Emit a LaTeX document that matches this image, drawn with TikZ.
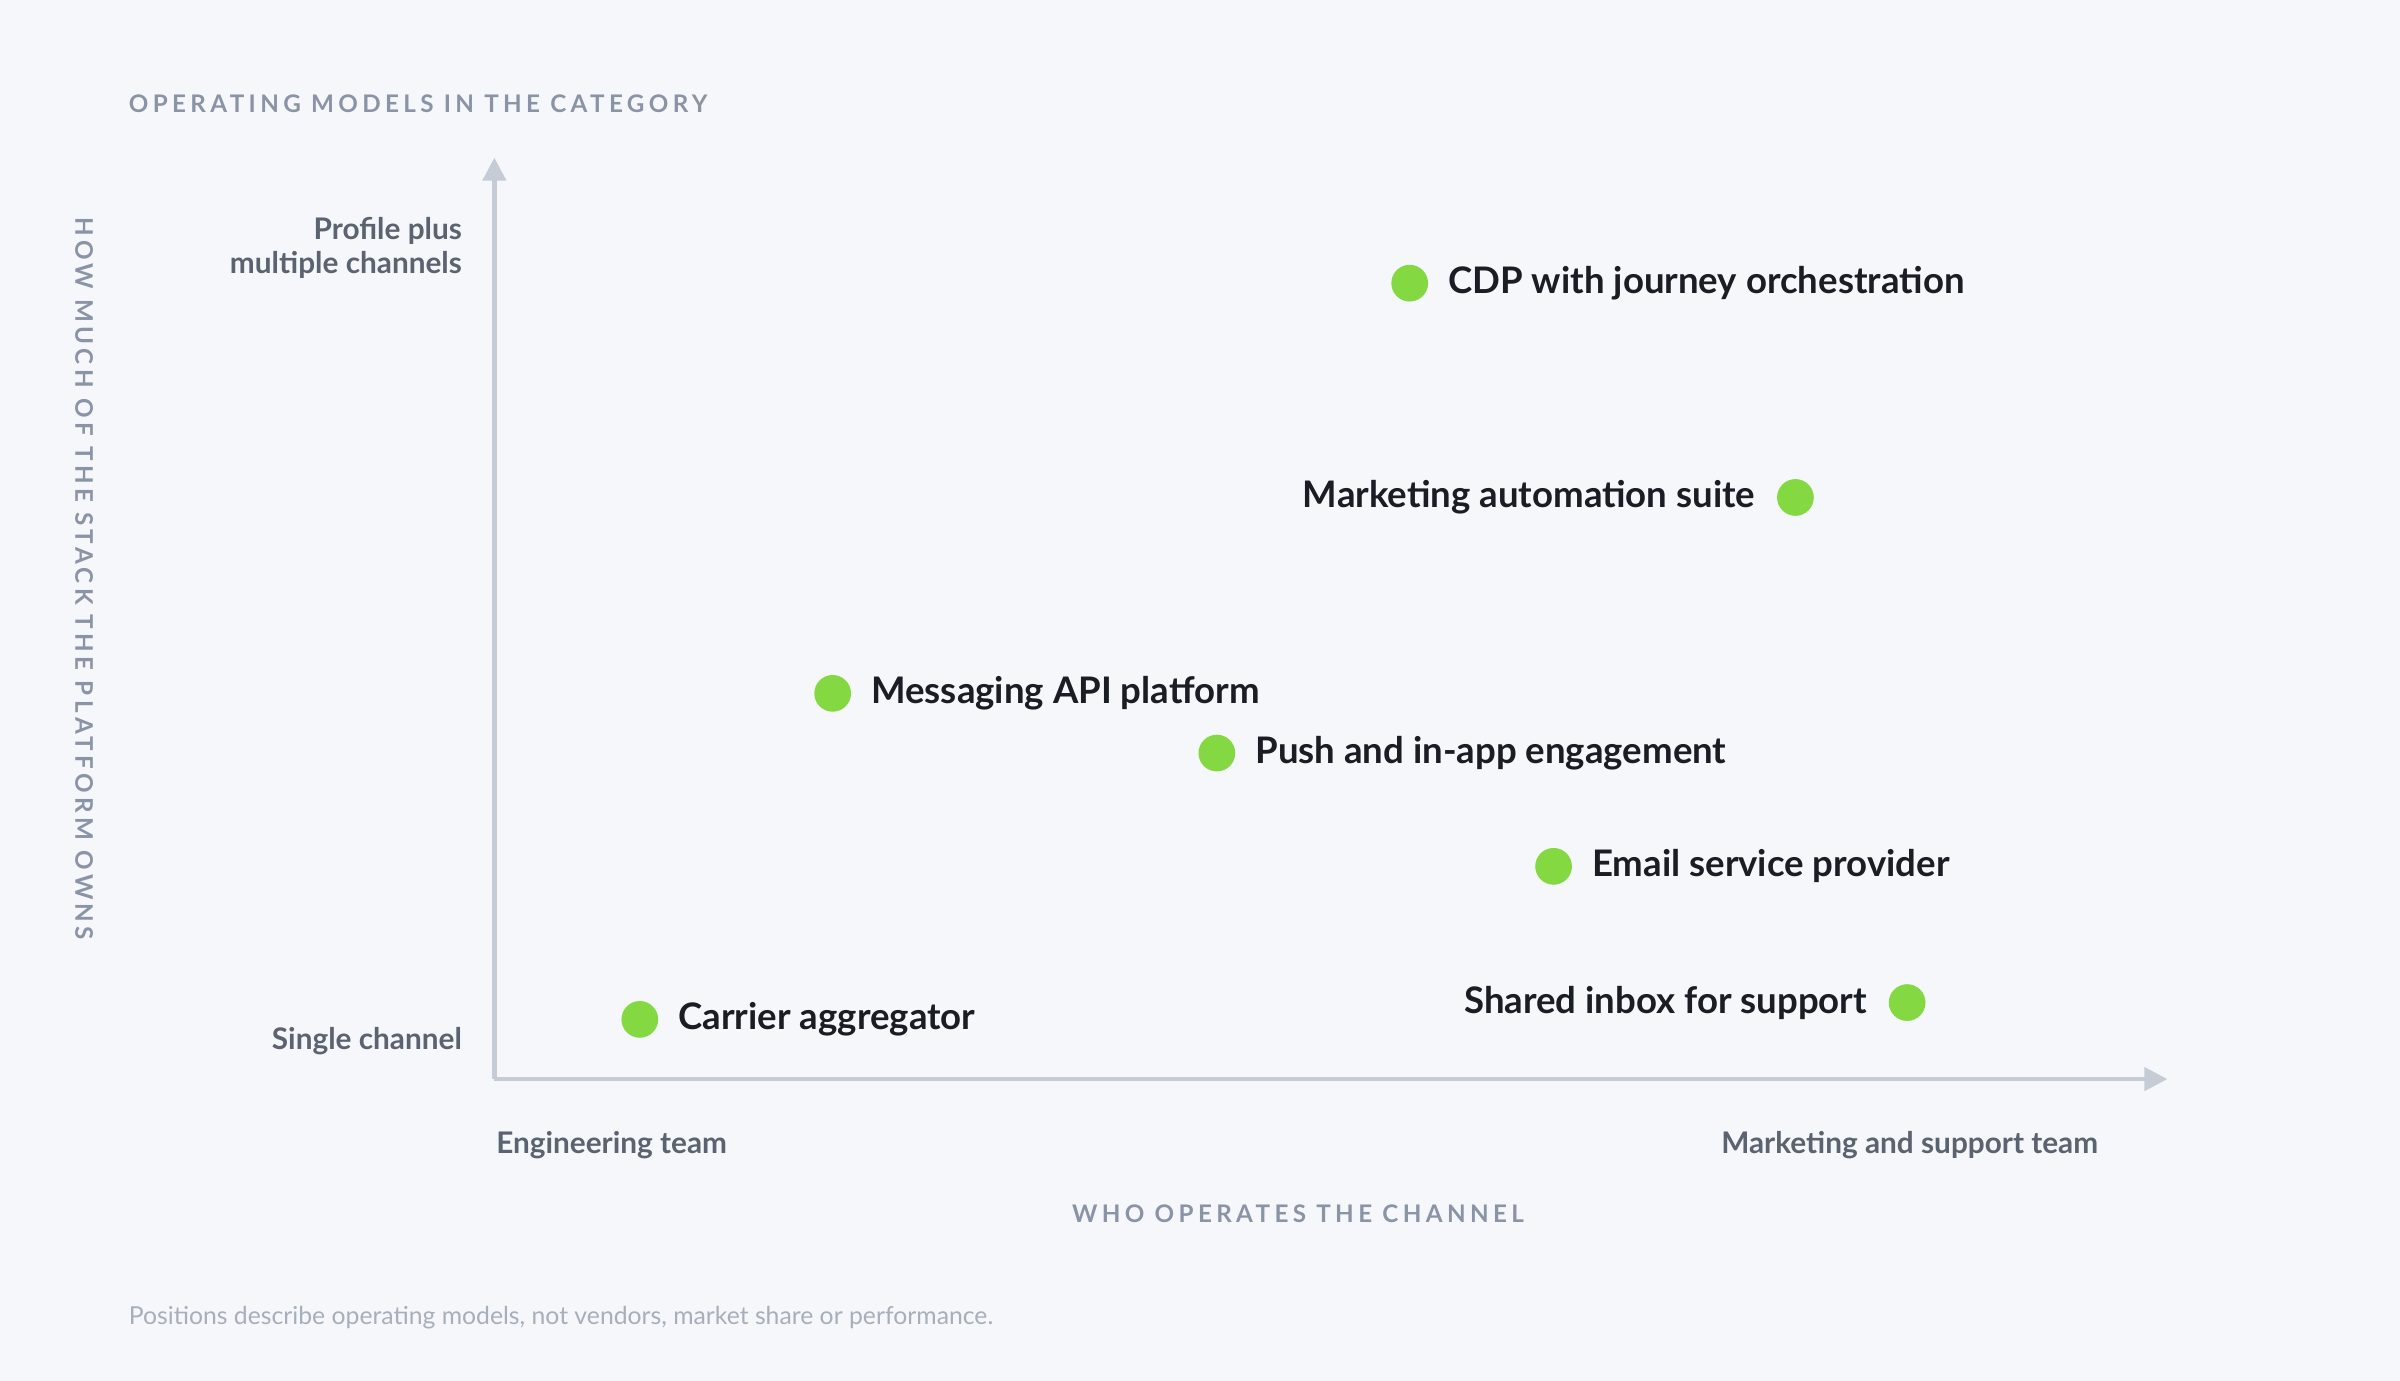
\documentclass[tikz,border=0pt]{standalone}
\usepackage{fontspec}
\setmainfont{Lato}
\newfontfamily\capsfont[LetterSpace=18]{Lato}
\usetikzlibrary{positioning,arrows.meta}
\definecolor{bgcol}{HTML}{F5F7FA}
\definecolor{axiscol}{HTML}{C5CCD6}
\definecolor{capcol}{HTML}{8A94A6}
\definecolor{tickcol}{HTML}{5B6270}
\definecolor{dotcol}{HTML}{84D943}
\definecolor{labcol}{HTML}{1A1D24}
\definecolor{notecol}{HTML}{A7AFBC}
\begin{document}
\begin{tikzpicture}[x=0.03cm,y=-0.03cm,
        axis/.style={draw=axiscol,line width=0.9mm,-{Triangle[length=4.5mm,width=4.5mm]}},
        captitle/.style={text=capcol,font=\capsfont\bfseries\fontsize{13.5}{15}\selectfont,inner sep=0pt},
        tick/.style={text=tickcol,font=\bfseries\fontsize{16.6}{20}\selectfont,inner sep=0pt},
        dot/.style={circle,fill=dotcol,minimum size=7.2mm,inner sep=0pt},
        lab/.style={text=labcol,font=\bfseries\fontsize{20.4}{22}\selectfont,inner sep=0pt}]
        \fill[bgcol] (0,0) rectangle (1568,902);
        \useasboundingbox (0,0) rectangle (1568,902);

        % axes
        \coordinate (O) at (323,705);
        \coordinate (ytop) at (323,103);
        \coordinate (xend) at (1416,705);
        \draw[axis] (O) -- (ytop);
        \draw[axis] (O) -- (xend);

        % titles
        \node[captitle,anchor=west] (title) at (84,68) {OPERATING MODELS IN THE CATEGORY};
        \node[captitle,rotate=-90] (ytitle) at (55,378) {HOW MUCH OF THE STACK THE PLATFORM OWNS};
        \node[captitle] (xtitle) at (848,793) {WHO OPERATES THE CHANNEL};
        \node[anchor=west,inner sep=0pt,text=notecol,font=\fontsize{13.8}{15}\selectfont] (note) at (84,861)
            {Positions describe operating models, not vendors, market share or performance.};

        % axis ends
        \node[tick,anchor=east,align=right] (yhigh) at (302,162) {Profile plus\\[-1pt]multiple channels};
        \node[tick,anchor=east] (ylow) at (302,680) {Single channel};
        \node[tick,anchor=west] (xlow) at (324,748) {Engineering team};
        \node[tick,anchor=east] (xhigh) at (1371,748) {Marketing and support team};

        % operating models
        \node[dot] (cdp) at (921,185) {};
        \node[lab,right=7.5mm of cdp.center,anchor=west] {CDP with journey orchestration};
        \node[dot] (mas) at (1173,325) {};
        \node[lab,left=7.8mm of mas.center,anchor=east] {Marketing automation suite};
        \node[dot] (api) at (544,453) {};
        \node[lab,right=7.5mm of api.center,anchor=west] {Messaging API platform};
        \node[dot] (push) at (795,492) {};
        \node[lab,right=7.5mm of push.center,anchor=west] {Push and in-app engagement};
        \node[dot] (esp) at (1015,566) {};
        \node[lab,right=7.5mm of esp.center,anchor=west] {Email service provider};
        \node[dot] (inbox) at (1246,655) {};
        \node[lab,left=7.8mm of inbox.center,anchor=east] {Shared inbox for support};
        \node[dot] (carrier) at (418,666) {};
        \node[lab,right=7.5mm of carrier.center,anchor=west] {Carrier aggregator};
\end{tikzpicture}
\end{document}
